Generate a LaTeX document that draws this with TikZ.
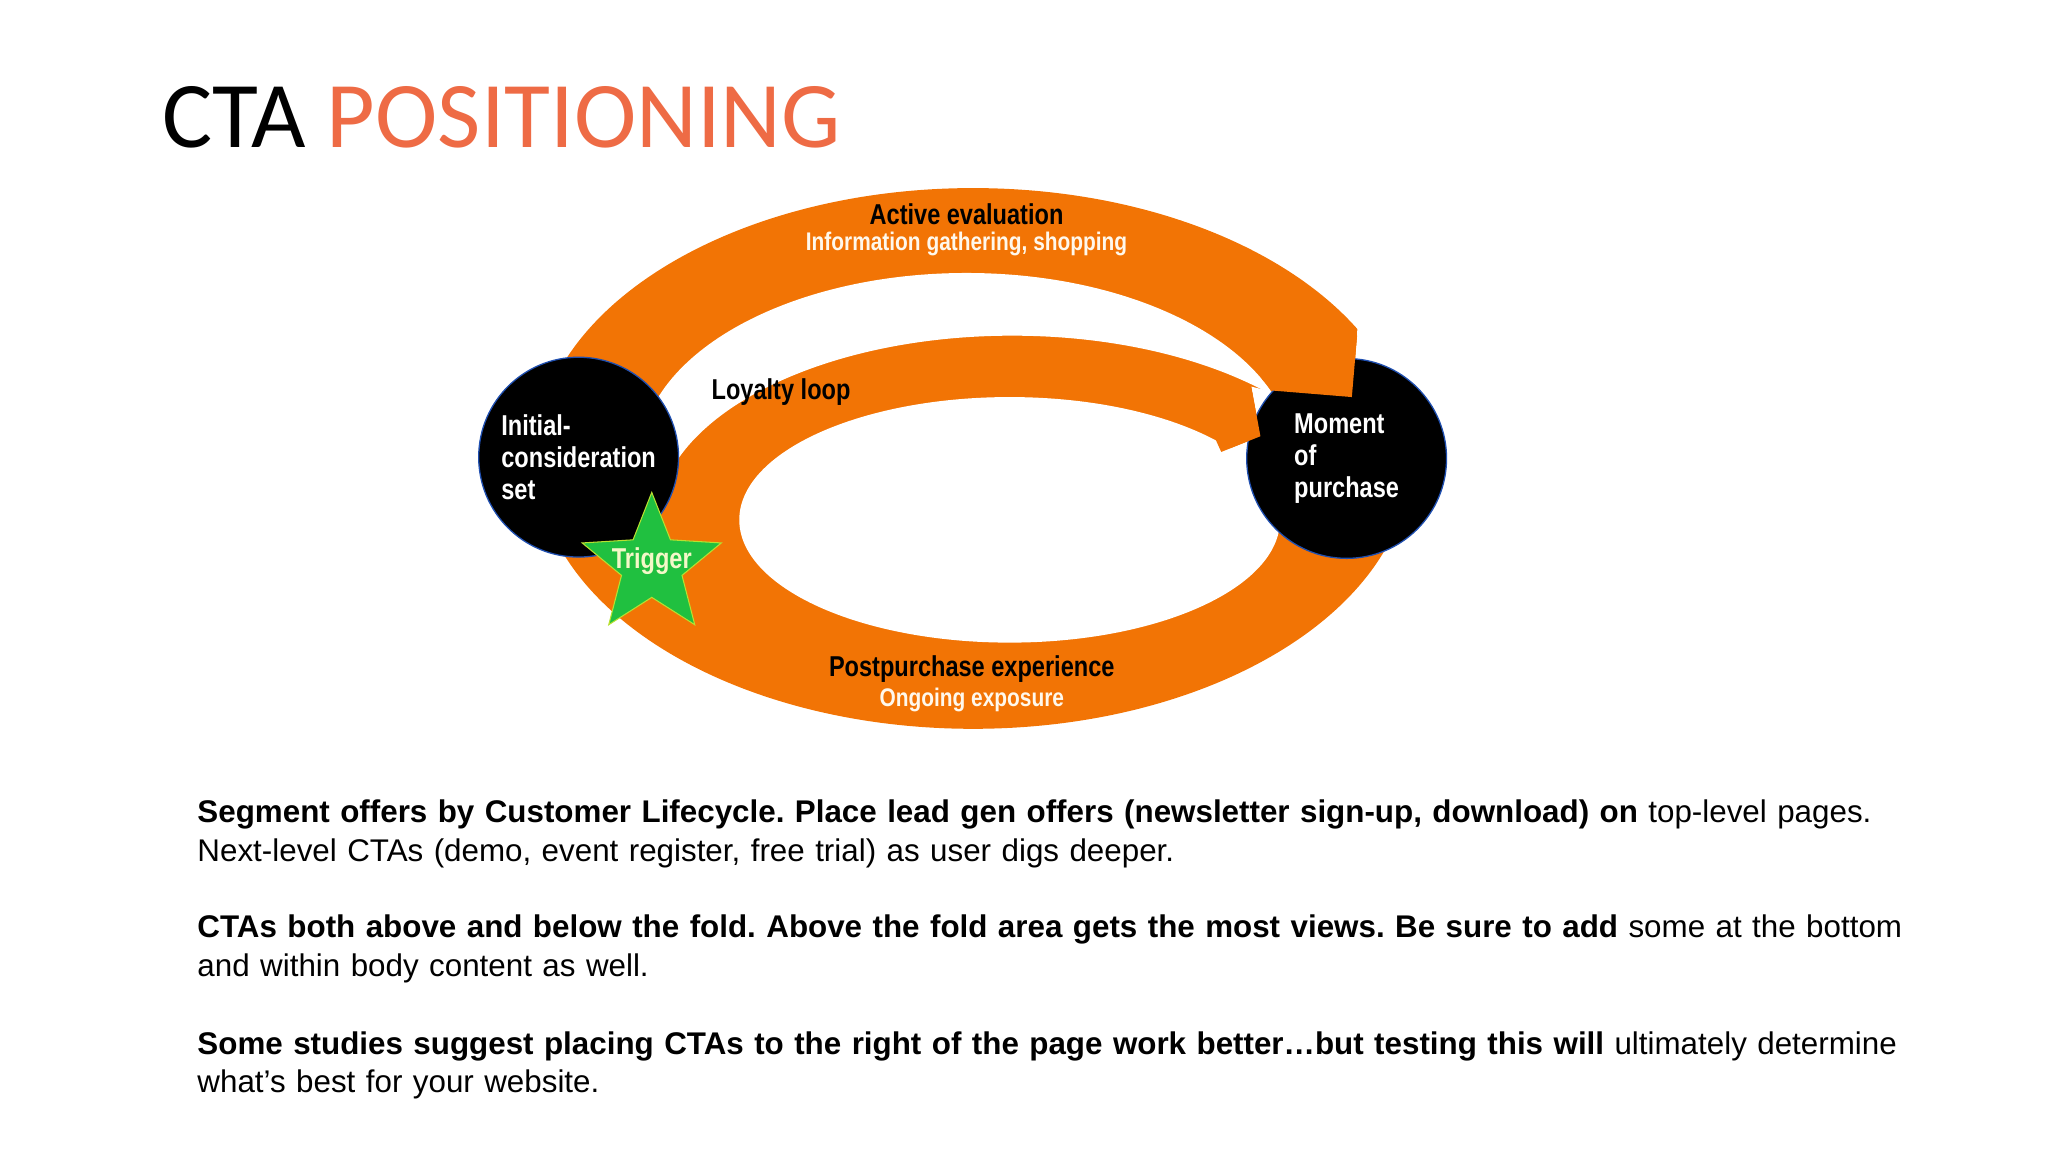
\documentclass[tikz,border=0pt]{standalone}
\usepackage{fontspec}
\setmainfont{Liberation Sans}
\newfontfamily\titlefont{Carlito}
\newfontfamily\diafont[FakeStretch=0.82]{Liberation Sans Bold}
\usetikzlibrary{shapes.geometric}
\definecolor{ctaorange}{HTML}{F27405}
\definecolor{ttlorange}{HTML}{EE6B45}
\definecolor{hubedge}{HTML}{1F4FB0}
\definecolor{stargreen}{HTML}{20C040}
\definecolor{staredge}{HTML}{B8E030}
\definecolor{trigtext}{HTML}{F4F8C8}
\definecolor{cream}{HTML}{FFF8EC}
\frenchspacing

\begin{document}
\begin{tikzpicture}[x=1pt, y=-1pt,
    band/.style={fill=ctaorange},
    gap/.style={fill=white},
    hub/.style={circle, fill=black, draw=hubedge, line width=1pt, minimum size=153pt, inner sep=0pt,
                text=white, font=\diafont\fontsize{22}{24.5}\selectfont, align=left},
    lbl/.style={font=\diafont\fontsize{22}{24}\selectfont, anchor=base, inner sep=0pt},
    sublbl/.style={font=\diafont\fontsize{19.5}{21}\selectfont, text=cream, anchor=base, inner sep=0pt},
    para/.style={font=\fontsize{24}{29.4}\selectfont, text width=1400pt, align=left, anchor=base west, inner sep=0pt}]
  \useasboundingbox (0,0) rectangle (1568,882);

  % title
  \node[anchor=base west, inner sep=0pt, font=\titlefont\fontsize{72}{72}\selectfont] (ttl) at (124,113)
    {CTA \textcolor{ttlorange}{POSITIONING}};

  % outer ring
  \fill[band] (745,351) ellipse [x radius=335, y radius=207];
  % gap between active evaluation and loyalty loop
  \begin{scope}
    \clip (740,351) ellipse [x radius=250, y radius=142];
    \fill[gap, even odd rule] (300,100) rectangle (1200,600) (775,400) ellipse [x radius=272, y radius=143];
  \end{scope}
  % hole inside the loyalty loop
  \fill[gap] (773,398) ellipse [x radius=207, y radius=94];
  % ends of the two arrows
  \fill[gap] (1041,200) -- (1130,200) -- (1130,306) -- (1035,306) -- (1039,257) -- cycle;
  \fill[gap] (958,296) -- (974,300) -- (1000,302) -- (1000,400) -- (975,404) -- (942,380) -- (935,346) -- (965,334) -- cycle;

  \node[hub] (ics) at (443,350) {Initial-\\consideration\\set};
  \node[hub] (mop) at (1031,351) {Moment\\of\\purchase};

  % arrow tips lying over the purchase circle
  \fill[band] (966,290) -- (974,299) -- (1035,304) -- (1039,257) -- (1000,240) -- cycle;
  \fill[band] (930,290) -- (958,296) -- (965,334) -- (935,346) -- (930,335) -- cycle;

  \node[star, star points=5, star point ratio=2.3, minimum size=112pt, inner sep=0pt,
        fill=stargreen, draw=staredge, line width=.8pt] (trig) at (499,433) {};
  \node[lbl, text=trigtext] (trigtxt) at (499,435) {Trigger};

  \node[lbl] (act) at (740,172) {Active evaluation};
  \node[sublbl] (actsub) at (740,192) {Information gathering, shopping};
  \node[lbl] (loy) at (598,306) {Loyalty loop};
  \node[lbl] (post) at (744,518) {Postpurchase experience};
  \node[sublbl] (postsub) at (744,541) {Ongoing exposure};

  % notes
  \node[para] (p1) at (151,630) {\textbf{Segment offers by Customer Lifecycle. Place lead gen offers (newsletter sign-up, download) on} top-level pages.\\
    Next-level CTAs (demo, event register, free trial) as user digs deeper.};
  \node[para] (p2) at (151,718) {\textbf{CTAs both above and below the fold. Above the fold area gets the most views. Be sure to add} some at the bottom\\
    and within body content as well.};
  \node[para] (p3) at (151,807) {\textbf{Some studies suggest placing CTAs to the right of the page work better…but testing this will} ultimately determine\\
    what’s best for your website.};
\end{tikzpicture}
\end{document}
